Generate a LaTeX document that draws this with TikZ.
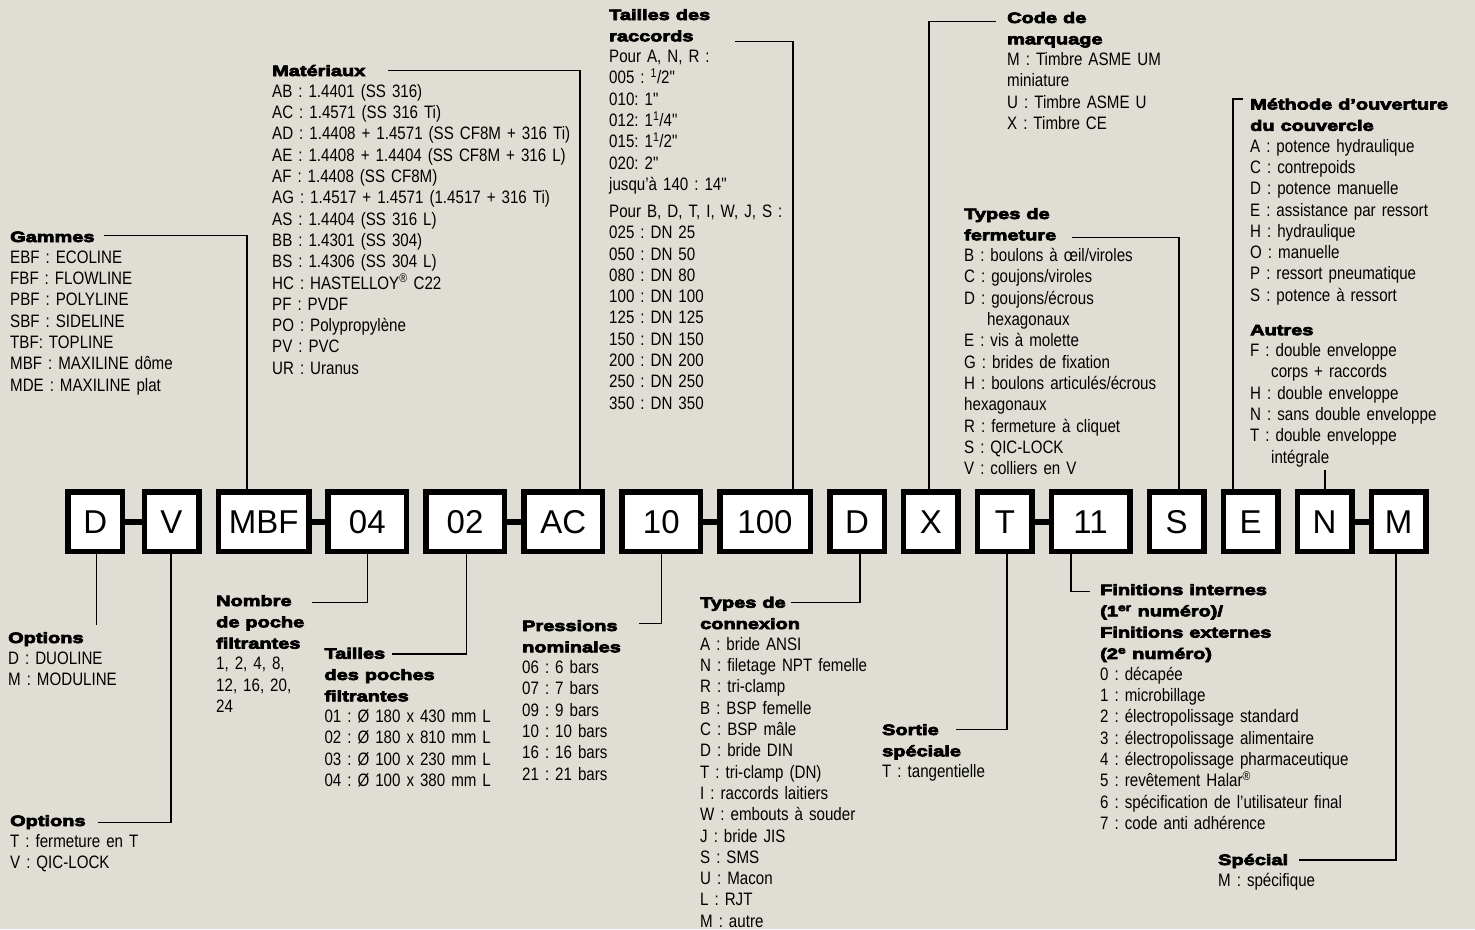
\documentclass[tikz,border=0pt]{standalone}
\usepackage{fontspec}
\setmainfont{Liberation Sans}[FakeStretch=0.84, WordSpace=0.7, Ligatures=TeXOff]
\newfontfamily\hfont{Liberation Sans Bold}[FakeStretch=1.33, FakeBold=5]
\newfontfamily\boxfont{Liberation Sans}
\definecolor{bg}{RGB}{224,222,212}
\newcommand\hd[1]{{\hfont\fontsize{15}{21.3}\selectfont #1}}
\tikzset{
  lbl/.style={anchor=base west, inner sep=0pt, text width=340pt, align=left, font=\frenchspacing\fontsize{18}{21.3}\selectfont},
  codebox/.style={draw=black, line width=5.5pt, fill=white, minimum height=59.2pt, text height=23.6pt, text depth=0pt, inner sep=0pt, font=\boxfont\fontsize{33}{33}\selectfont},
  sbox/.style={codebox, minimum width=54.5pt},
  wbox/.style={codebox, minimum width=78.5pt},
  xbox/.style={codebox, minimum width=90.5pt},
  linkbar/.style={line width=6pt},
  lead/.style={line width=1.4pt},
}
\begin{document}
\begin{tikzpicture}[x=1pt,y=-1pt]
\useasboundingbox (0,0) rectangle (1475,929);
\fill[bg] (0,0) rectangle (1475,929);

% ---- code boxes ----
\node[sbox] (bD) at (95.3,521.7) {D};
\node[sbox] (bV) at (171.5,521.7) {V};
\node[xbox] (bMBF) at (263.6,521.7) {MBF};
\node[wbox] (b04) at (367.3,521.7) {04};
\node[wbox] (b02) at (465,521.7) {02};
\node[wbox] (bAC) at (563.2,521.7) {AC};
\node[wbox] (b10) at (661.3,521.7) {10};
\node[xbox] (b100) at (765,521.7) {100};
\node[sbox] (bD2) at (857,521.7) {D};
\node[sbox] (bX) at (930.8,521.7) {X};
\node[sbox] (bT) at (1004.9,521.7) {T};
\node[wbox] (b11) at (1090.6,521.7) {11};
\node[sbox] (bS) at (1176.5,521.7) {S};
\node[sbox] (bE) at (1250.5,521.7) {E};
\node[sbox] (bN) at (1324.5,521.7) {N};
\node[sbox] (bM) at (1398.5,521.7) {M};

% ---- link bars ----
\draw[linkbar] (bD.east) -- (bV.west);
\draw[linkbar] (bMBF.east) -- (b04.west);
\draw[linkbar] (b02.east) -- (bAC.west);
\draw[linkbar] (b10.east) -- (b100.west);
\draw[linkbar] (bT.east) -- (b11.west);
\draw[linkbar] (bN.east) -- (bM.west);

% ---- top labels ----
\node[lbl] (tGam) at (10,242) {\hd{Gammes}\\
EBF : ECOLINE\\
FBF : FLOWLINE\\
PBF : POLYLINE\\
SBF : SIDELINE\\
TBF: TOPLINE\\
MBF : MAXILINE dôme\\
MDE : MAXILINE plat};

\node[lbl] (tMat) at (272,76) {\hd{Matériaux}\\
AB : 1.4401 (SS 316)\\
AC : 1.4571 (SS 316 Ti)\\
AD : 1.4408 + 1.4571 (SS CF8M + 316 Ti)\\
AE : 1.4408 + 1.4404 (SS CF8M + 316 L)\\
AF : 1.4408 (SS CF8M)\\
AG : 1.4517 + 1.4571 (1.4517 + 316 Ti)\\
AS : 1.4404 (SS 316 L)\\
BB : 1.4301 (SS 304)\\
BS : 1.4306 (SS 304 L)\\
HC : HASTELLOY\textsuperscript{®} C22\\
PF : PVDF\\
PO : Polypropylène\\
PV : PVC\\
UR : Uranus};

\node[lbl] (tRac) at (609,20) {\hd{Tailles des}\\
\hd{raccords}\\
Pour A, N, R :\\
005 : \textsuperscript{1}/2"\\
010: 1"\\
012: 1\textsuperscript{1}/4"\\
015: 1\textsuperscript{1}/2"\\
020: 2"\\
jusqu’à 140 : 14"\\[5.7pt]
Pour B, D, T, I, W, J, S :\\
025 : DN 25\\
050 : DN 50\\
080 : DN 80\\
100 : DN 100\\
125 : DN 125\\
150 : DN 150\\
200 : DN 200\\
250 : DN 250\\
350 : DN 350};

\node[lbl] (tMarq) at (1007,23) {\hd{Code de}\\
\hd{marquage}\\
M : Timbre ASME UM\\
miniature\\
U : Timbre ASME U\\
X : Timbre CE};

\node[lbl] (tFerm) at (964,219) {\hd{Types de}\\
\hd{fermeture}\\
B : boulons à œil/viroles\\
C : goujons/viroles\\
D : goujons/écrous\\
\hspace*{23pt}hexagonaux\\
E : vis à molette\\
G : brides de fixation\\
H : boulons articulés/écrous\\
hexagonaux\\
R : fermeture à cliquet\\
S : QIC-LOCK\\
V : colliers en V};

\node[lbl] (tMeth) at (1250,109.5) {\hd{Méthode d’ouverture}\\
\hd{du couvercle}\\
A : potence hydraulique\\
C : contrepoids\\
D : potence manuelle\\
E : assistance par ressort\\
H : hydraulique\\
O : manuelle\\
P : ressort pneumatique\\
S : potence à ressort\\[12.7pt]
\hd{Autres}\\
F : double enveloppe\\
\hspace*{21pt}corps + raccords\\
H : double enveloppe\\
N : sans double enveloppe\\
T : double enveloppe\\
\hspace*{21pt}intégrale};

% ---- bottom labels ----
\node[lbl] (tOpt1) at (8,643) {\hd{Options}\\
D : DUOLINE\\
M : MODULINE};

\node[lbl] (tOpt2) at (10,826) {\hd{Options}\\
T : fermeture en T\\
V : QIC-LOCK};

\node[lbl] (tNomb) at (216,606) {\hd{Nombre}\\
\hd{de poche}\\
\hd{filtrantes}\\
1, 2, 4, 8,\\
12, 16, 20,\\
24};

\node[lbl] (tPoch) at (324.3,658.7) {\hd{Tailles}\\
\hd{des poches}\\
\hd{filtrantes}\\
01 : Ø 180 x 430 mm L\\
02 : Ø 180 x 810 mm L\\
03 : Ø 100 x 230 mm L\\
04 : Ø 100 x 380 mm L};

\node[lbl] (tPres) at (522,631) {\hd{Pressions}\\
\hd{nominales}\\
06 : 6 bars\\
07 : 7 bars\\
09 : 9 bars\\
10 : 10 bars\\
16 : 16 bars\\
21 : 21 bars};

\node[lbl] (tConn) at (700,607.7) {\hd{Types de}\\
\hd{connexion}\\
A : bride ANSI\\
N : filetage NPT femelle\\
R : tri-clamp\\
B : BSP femelle\\
C : BSP mâle\\
D : bride DIN\\
T : tri-clamp (DN)\\
I : raccords laitiers\\
W : embouts à souder\\
J : bride JIS\\
S : SMS\\
U : Macon\\
L : RJT\\
M : autre};

\node[lbl] (tSort) at (882,735) {\hd{Sortie}\\
\hd{spéciale}\\
T : tangentielle};

\node[lbl] (tFin) at (1100,595) {\hd{Finitions internes}\\
\hd{(1\textsuperscript{er} numéro)/}\\
\hd{Finitions externes}\\
\hd{(2\textsuperscript{e} numéro)}\\
0 : décapée\\
1 : microbillage\\
2 : électropolissage standard\\
3 : électropolissage alimentaire\\
4 : électropolissage pharmaceutique\\
5 : revêtement Halar\textsuperscript{®}\\
6 : spécification de l’utilisateur final\\
7 : code anti adhérence};

\node[lbl] (tSpec) at (1218,865) {\hd{Spécial}\\
M : spécifique};

% ---- leader lines ----
\coordinate (cGam) at (246.8,235.7); \coordinate (eGam) at (104,235.7);
\draw[lead] (bMBF.north -| cGam) -- (cGam) -- (eGam);
\coordinate (cMat) at (580,70.7); \coordinate (eMat) at (388,70.7);
\draw[lead] (bAC.north -| cMat) -- (cMat) -- (eMat);
\coordinate (cRac) at (793,41.3); \coordinate (eRac) at (735,41.3);
\draw[lead] (b100.north -| cRac) -- (cRac) -- (eRac);
\coordinate (cMarq) at (929,21.7); \coordinate (eMarq) at (996,21.7);
\draw[lead] (bX.north -| cMarq) -- (cMarq) -- (eMarq);
\coordinate (cFerm) at (1179,237.7); \coordinate (eFerm) at (1072,237.7);
\draw[lead] (bS.north -| cFerm) -- (cFerm) -- (eFerm);
\coordinate (cMeth) at (1233,99); \coordinate (eMeth) at (1243,99);
\draw[lead] (bE.north -| cMeth) -- (cMeth) -- (eMeth);
\coordinate (eAut) at (1325,470);
\draw[lead] (bN.north -| eAut) -- (eAut);

\coordinate (eOpt1) at (96.7,625);
\draw[lead] (bD.south -| eOpt1) -- (eOpt1);
\coordinate (cOpt2) at (171,822.7); \coordinate (eOpt2) at (97.7,822.7);
\draw[lead] (bV.south -| cOpt2) -- (cOpt2) -- (eOpt2);
\coordinate (cNomb) at (367.3,602.3); \coordinate (eNomb) at (311.7,602.3);
\draw[lead] (b04.south -| cNomb) -- (cNomb) -- (eNomb);
\coordinate (cPoch) at (466.7,654); \coordinate (ePoch) at (391.7,654);
\draw[lead] (b02.south -| cPoch) -- (cPoch) -- (ePoch);
\coordinate (cPres) at (661.5,623.7); \coordinate (ePres) at (639.3,623.7);
\draw[lead] (b10.south -| cPres) -- (cPres) -- (ePres);
\coordinate (cConn) at (860,602.7); \coordinate (eConn) at (790.7,602.7);
\draw[lead] (bD2.south -| cConn) -- (cConn) -- (eConn);
\coordinate (cSort) at (1007,729.3); \coordinate (eSort) at (955.9,729.3);
\draw[lead] (bT.south -| cSort) -- (cSort) -- (eSort);
\coordinate (cFin) at (1071,591.7); \coordinate (eFin) at (1090,591.7);
\draw[lead] (b11.south -| cFin) -- (cFin) -- (eFin);
\coordinate (cSpec) at (1396,860); \coordinate (eSpec) at (1299,860);
\draw[lead] (bM.south -| cSpec) -- (cSpec) -- (eSpec);
\end{tikzpicture}
\end{document}
